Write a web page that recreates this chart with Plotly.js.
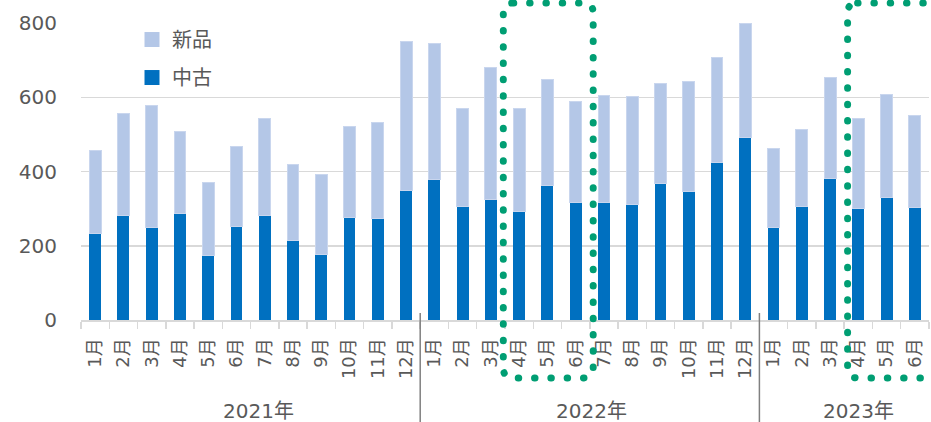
<!DOCTYPE html>
<html>
<head>
<meta charset="utf-8">
<script src="https://cdn.plot.ly/plotly-3.0.1.min.js"></script>
<style>
  html, body { margin: 0; padding: 0; background: #fff; }
  #chart { width: 931px; height: 422px; }
  /* round caps turn the zero-length dashes into dots */
  .shapelayer path.hl { stroke-linecap: round !important; }
</style>
</head>
<body>
<div id="chart"></div>
<script>
// Monthly counts, Jan 2021 – Jun 2023
const months = ["1月","2月","3月","4月","5月","6月","7月","8月","9月","10月","11月","12月",
                "1月","2月","3月","4月","5月","6月","7月","8月","9月","10月","11月","12月",
                "1月","2月","3月","4月","5月","6月"];
const years = ["2021年", "2022年", "2023年"];
const monthsPerYear = [12, 12, 6];

const usedCounts = [234,282,250,287,175,253,282,213,177,277,273,349,
                    379,306,325,292,362,317,316,310,367,347,424,492,
                    249,306,382,301,330,304];
const newCounts  = [222,274,329,220,195,215,260,206,214,243,260,402,
                    366,263,356,277,285,272,290,293,271,295,284,308,
                    213,208,272,243,277,246];

const textColor = "#595959";
const gridColor = "#D9D9D9";
const fontFamily = "DejaVu Sans, 'Noto Sans CJK JP', sans-serif";

const n = months.length;
const xIdx = months.map((_, i) => i);

const W = 931, H = 422;
const M = { l: 81, r: 2, t: 23, b: 102 };
const plotW = W - M.l - M.r, plotH = H - M.t - M.b;
const yMax = 800;

// helpers: category position / pixel offsets -> paper fractions
const xp = v => (v + 0.5) / n;
const pxX = px => px / plotW;
const pxY = px => px / plotH;

const traces = [
  { type: "bar", name: "中古", x: xIdx, y: usedCounts, width: 0.42,
    marker: { color: "#0070C0" }, showlegend: false },
  { type: "bar", name: "新品", x: xIdx, y: newCounts, width: 0.42,
    marker: { color: "#B4C7E7", line: { color: "#C9D6EE", width: 1 } }, showlegend: false },
  // legend entries with larger square swatches
  { type: "scatter", mode: "markers", name: "新品", x: [null], y: [null],
    legendgroup: "a", marker: { symbol: "square", size: 15, color: "#B4C7E7" } },
  { type: "scatter", mode: "markers", name: "中古", x: [null], y: [null],
    legendgroup: "b", marker: { symbol: "square", size: 15, color: "#0070C0" } }
];

const shapes = [];
const annotations = [];
// centre of each year label, in category units
const yearLabelX = [5.77, 17.55, 27.02];

// year separators and labels
let start = 0;
years.forEach((yr, k) => {
  if (k > 0) {
    const xb = xp(start - 0.5);
    shapes.push({ type: "line", xref: "paper", yref: "paper",
      x0: xb, x1: xb, y0: pxY(7), y1: -pxY(102),
      line: { color: "#808080", width: 1.5 } });
  }
  annotations.push({ xref: "paper", yref: "paper", x: xp(yearLabelX[k]), y: -pxY(91),
    text: yr, showarrow: false, xanchor: "center", yanchor: "middle", borderpad: 0,
    font: { size: 20, color: textColor, family: fontFamily } });
  start += monthsPerYear[k];
});

// dotted rounded boxes around Apr–Jun 2022 and Apr–Jun 2023
function roundedRect(x0, x1, y0, y1, r) {
  const rx = pxX(r), ry = pxY(r);
  return `M${x0 + rx},${y1} L${x1 - rx},${y1} Q${x1},${y1} ${x1},${y1 - ry} ` +
         `L${x1},${y0 + ry} Q${x1},${y0} ${x1 - rx},${y0} ` +
         `L${x0 + rx},${y0} Q${x0},${y0} ${x0},${y0 + ry} ` +
         `L${x0},${y1 - ry} Q${x0},${y1} ${x0 + rx},${y1} Z`;
}
[[14.44, 17.62], [26.62, 29.95]].forEach(([a, b]) => {
  shapes.push({ type: "path", xref: "paper", yref: "paper", layer: "above",
    path: roundedRect(xp(a), xp(b), -pxY(58), 1 + pxY(20), 10),
    line: { color: "#009E73", width: 7, dash: "0.5px,15.8px" } });
});

const layout = {
  width: W, height: H, margin: M,
  paper_bgcolor: "#fff", plot_bgcolor: "#fff",
  barmode: "stack", showlegend: true,
  font: { family: fontFamily, color: textColor },
  legend: { x: pxX(51), y: 1.01, xanchor: "left", yanchor: "top",
    traceorder: "grouped", tracegroupgap: 9,
    bgcolor: "rgba(0,0,0,0)", font: { size: 20, color: textColor, family: fontFamily } },
  xaxis: {
    range: [-0.5, n - 0.5], tickmode: "array", tickvals: xIdx, ticktext: months,
    tickangle: -90, ticks: "", showgrid: false, zeroline: false,
    showline: true, linecolor: gridColor, linewidth: 2,
    ticklabelstandoff: 9,
    tickfont: { size: 18, color: textColor, family: fontFamily },
    minor: { tick0: 0.5, dtick: 1, ticks: "outside", ticklen: 7,
      tickcolor: gridColor, tickwidth: 1.5, showgrid: false }
  },
  yaxis: {
    range: [0, yMax], dtick: 200, showgrid: true, gridcolor: gridColor, gridwidth: 1.5,
    zeroline: false, showline: false, ticks: "",
    ticklabelstandoff: 23,
    tickfont: { size: 20, color: textColor, family: fontFamily }
  },
  shapes: shapes, annotations: annotations
};

Plotly.newPlot("chart", traces, layout, { displayModeBar: false, staticPlot: true })
  .then(gd => {
    // mark the dotted highlight paths so the round line caps apply
    gd.querySelectorAll(".shapelayer path").forEach(p => {
      const da = p.style.strokeDasharray || p.getAttribute("stroke-dasharray") || "";
      if (da.indexOf("15.8") >= 0) p.classList.add("hl");
    });
  });
</script>
</body>
</html>
